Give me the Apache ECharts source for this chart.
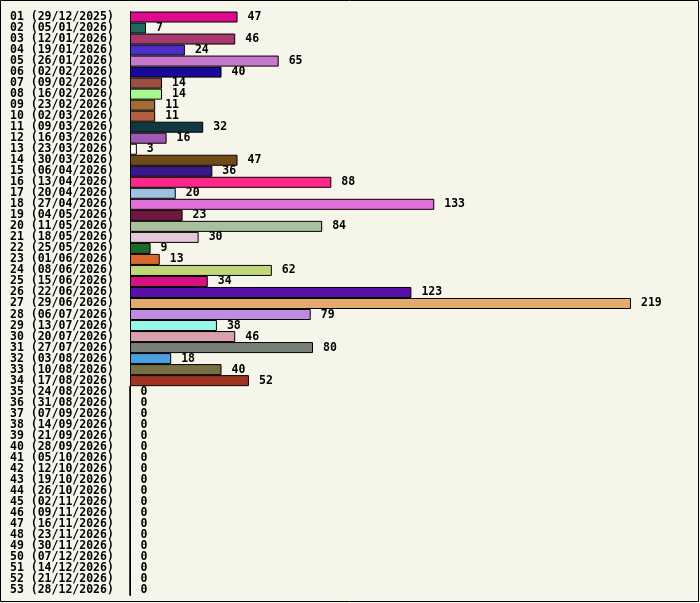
<!DOCTYPE html>
<html><head><meta charset="utf-8">
<script src="https://cdn.jsdelivr.net/npm/echarts@6/dist/echarts.min.js"></script>
<style>html,body{margin:0;padding:0;background:#f5f5e9;}#c{width:700px;height:603px;}</style>
</head><body><div id="c"></div>
<script>
const weeks = ["01","02","03","04","05","06","07","08","09","10","11","12","13","14","15","16","17","18","19","20","21","22","23","24","25","26","27","28","29","30","31","32","33","34","35","36","37","38","39","40","41","42","43","44","45","46","47","48","49","50","51","52","53"];
const dates = ["29/12/2025","05/01/2026","12/01/2026","19/01/2026","26/01/2026","02/02/2026","09/02/2026","16/02/2026","23/02/2026","02/03/2026","09/03/2026","16/03/2026","23/03/2026","30/03/2026","06/04/2026","13/04/2026","20/04/2026","27/04/2026","04/05/2026","11/05/2026","18/05/2026","25/05/2026","01/06/2026","08/06/2026","15/06/2026","22/06/2026","29/06/2026","06/07/2026","13/07/2026","20/07/2026","27/07/2026","03/08/2026","10/08/2026","17/08/2026","24/08/2026","31/08/2026","07/09/2026","14/09/2026","21/09/2026","28/09/2026","05/10/2026","12/10/2026","19/10/2026","26/10/2026","02/11/2026","09/11/2026","16/11/2026","23/11/2026","30/11/2026","07/12/2026","14/12/2026","21/12/2026","28/12/2026"];
const values = [47,7,46,24,65,40,14,14,11,11,32,16,3,47,36,88,20,133,23,84,30,9,13,62,34,123,219,79,38,46,80,18,40,52,0,0,0,0,0,0,0,0,0,0,0,0,0,0,0,0,0,0,0];
const colors = ["#dc0a8c","#1f6b5e","#a63a6e","#4b2fc6","#c878c8","#1a0899","#9a5040","#a8f890","#a46c34","#b06040","#0f3840","#a058b0","#fffff0","#704a18","#3a1888","#ff2888","#a0c0e0","#e070d8","#701840","#a8c0a0","#e2c8d8","#206828","#d86830","#c0d878","#d81080","#5810a8","#e2aa6e","#c08ae0","#98f8e8","#d8a0ac","#788078","#48a0e0","#787040","#a03420","#888888","#888888","#888888","#888888","#888888","#888888","#888888","#888888","#888888","#888888","#888888","#888888","#888888","#888888","#888888","#888888","#888888","#888888","#888888"];

const cats = weeks.map((w,i)=> w + " (" + dates[i] + ")");
const FONT = "DejaVu Sans Mono";
const chart = echarts.init(document.getElementById('c'), null, {renderer:'canvas'});
chart.setOption({
  backgroundColor: '#f5f5e9',
  animation: false,
  graphic: [{type:'rect', shape:{x:0.5,y:0.5,width:698,height:601}, style:{fill:null, stroke:'#000', lineWidth:1}, silent:true}],
  grid: {left:130, top:11.5, width:501, height:584, containLabel:false},
  xAxis: {type:'value', min:0, max:219, show:false},
  yAxis: {
    type:'category', data:cats, inverse:true,
    axisLine:{show:true, lineStyle:{color:'#000', width:1}},
    axisTick:{show:false},
    axisLabel:{align:'left', margin:120, color:'#000', fontFamily:FONT, fontWeight:'bold', fontSize:11.5, interval:0, padding:[1,0,0,0]}
  },
  series: [{
    type:'bar', barCategoryGap:'0%',
    data: values.map((v,i)=>({value:v, itemStyle:{color:colors[i]}})),
    itemStyle:{borderColor:'#000', borderWidth:1},
    label:{show:true, position:'right', distance:10, color:'#000', fontFamily:FONT, fontWeight:'bold', fontSize:11.5, padding:[1,0,0,0]}
  }]
});
</script></body></html>
